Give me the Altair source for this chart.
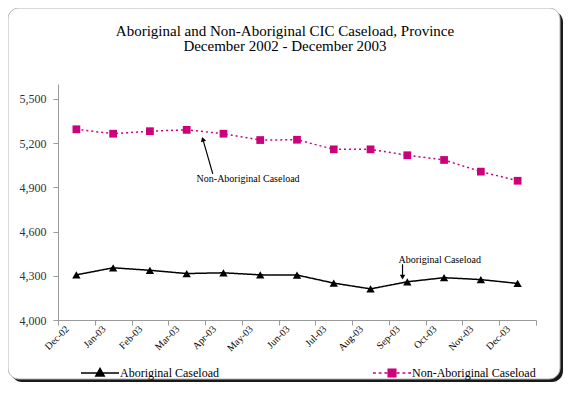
import json
import altair as alt
import pandas as pd

# ---------------- data ----------------
months = ["Dec-02", "Jan-03", "Feb-03", "Mar-03", "Apr-03", "May-03", "Jun-03",
          "Jul-03", "Aug-03", "Sep-03", "Oct-03", "Nov-03", "Dec-03"]
series_names = ["Aboriginal Caseload", "Non-Aboriginal Caseload"]
aboriginal = [4306, 4354, 4337, 4315, 4320, 4306, 4305, 4250, 4211, 4259, 4287, 4274, 4248]
non_aboriginal = [5293, 5263, 5280, 5289, 5263, 5220, 5222, 5157, 5157, 5117, 5085, 5006, 4944]
y_ticks = [4000, 4300, 4600, 4900, 5200, 5500]
title_lines = ["Aboriginal and Non-Aboriginal CIC Caseload, Province",
               "December 2002 - December 2003"]

FONT = "Liberation Serif"
BLACK = "#000000"
PINK = "#CC007A"

rows = []
for i, m in enumerate(months):
    rows.append({"idx": i, "month": m, "series": series_names[0], "value": aboriginal[i]})
    rows.append({"idx": i, "month": m, "series": series_names[1], "value": non_aboriginal[i]})
df = pd.DataFrame(rows)

# annotations (in data units)
ann_text = pd.DataFrame({
    "idx": [4.67, 9.88],
    "value": [4959, 4404],
    "label": ["Non-Aboriginal Caseload", "Aboriginal Caseload"],
})
ann_shaft = pd.DataFrame({
    "idx": [3.71, 8.87], "value": [4991, 4378],
    "idx2": [3.44, 8.87], "value2": [5225, 4290],
})
ann_head = pd.DataFrame({
    "idx": [3.44, 8.87], "value": [5225, 4290], "angle": [344, 180],
})

# ---------------- scales / axes ----------------
x_scale = alt.Scale(domain=[-0.5, 12.5], nice=False, zero=False)
y_scale = alt.Scale(domain=[4000, 5600], nice=False, zero=False)

label_expr = json.dumps(months) + "[round(datum.value + 0.5)] || ''"
x_axis = alt.Axis(
    values=[i - 0.5 for i in range(len(months) + 1)],
    labelExpr=label_expr, labelAngle=315, labelAlign="right", labelBaseline="middle",
    labelOffset=9, labelPadding=2, labelOverlap=False, labelFlush=False,
    labelFont=FONT, labelFontSize=10, labelColor=BLACK,
    tickSize=5, tickColor="#9a9a9a", domainColor="#9a9a9a", grid=False, title=None, zindex=2,
)
y_axis = alt.Axis(
    values=y_ticks, format=",d", labelFont=FONT, labelFontSize=12, labelColor="#333333",
    labelPadding=7, tickSize=5, tickColor="#9a9a9a", domainColor="#9a9a9a",
    labelOverlap=False, labelFlush=False,
    grid=False, title=None, zindex=2,
)

X = alt.X("idx:Q", scale=x_scale, axis=x_axis, title=None)
Y = alt.Y("value:Q", scale=y_scale, axis=y_axis, title=None)

# ---------------- frame ----------------
frame_df = pd.DataFrame({"k": [0]})
shadow = alt.Chart(frame_df).mark_rect(fill="#1a1a1a", cornerRadius=11).encode(
    x=alt.value(-47), x2=alt.value(505), y=alt.value(-73), y2=alt.value(298))
frame = alt.Chart(frame_df).mark_rect(fill="white", stroke="#b4b4b4", strokeWidth=1,
                                      cornerRadius=11).encode(
    x=alt.value(-50), x2=alt.value(502), y=alt.value(-76), y2=alt.value(295))

# ---------------- series ----------------
lines = alt.Chart(df).mark_line(strokeWidth=1.5).encode(
    x=X, y=Y,
    color=alt.Color("series:N", scale=alt.Scale(domain=series_names, range=[BLACK, PINK]), legend=None),
    strokeDash=alt.StrokeDash("series:N", scale=alt.Scale(domain=series_names, range=[[1, 0], [2, 3]]),
                              legend=None),
)
tri = alt.Chart(df).transform_filter(alt.datum.series == series_names[0]).mark_point(
    shape="triangle-up", filled=True, color=BLACK, size=70, opacity=1).encode(x=X, y=Y)
sq = alt.Chart(df).transform_filter(alt.datum.series == series_names[1]).mark_point(
    shape="square", filled=True, color=PINK, size=60, opacity=1).encode(x=X, y=Y)


# ---------------- legend symbols (stroke-only paths, hatched to look filled) ----------------
def fmt(v):
    return ("%.3f" % v).rstrip("0").rstrip(".")


def tri_path():
    top, base, hw = -0.24, 0.16, 0.22
    p = "M-1,0H1M0,%s L%s,%s H%s Z" % (fmt(top), fmt(hw), fmt(base), fmt(-hw))
    y = top + 0.04
    while y <= base + 1e-9:
        w = hw * (y - top) / (base - top)
        p += "M%s,%sH%s" % (fmt(-w), fmt(y), fmt(w))
        y += 0.04
    return p


def sq_path():
    h = 0.2
    p = ""
    for a, b in [(-1, -0.85), (-0.7, -0.55), (-0.4, -0.25), (0.25, 0.4), (0.55, 0.7), (0.85, 1)]:
        p += "M%s,0H%s" % (fmt(a), fmt(b))
    p += "M%s,%sH%sV%sH%sZ" % (fmt(-h), fmt(-h), fmt(h), fmt(h), fmt(-h))
    y = -h + 0.04
    while y < h - 1e-9:
        p += "M%s,%sH%s" % (fmt(-h), fmt(y), fmt(h))
        y += 0.04
    return p


def legend_layer(k, path, col, lx):
    lg = alt.Legend(
        orient="none", legendX=lx, legendY=269, title=None, padding=0, symbolSize=1444,
        symbolStrokeWidth=1.5, symbolOpacity=1, symbolFillColor=col, symbolStrokeColor=col,
        labelFont=FONT, labelFontSize=12, labelColor=BLACK, labelOffset=0,
    )
    return alt.Chart(df).transform_filter(alt.datum.series == series_names[k]).mark_point(
        opacity=0, filled=False, color=col, stroke=col, strokeWidth=1.5).encode(
        x=X, y=Y,
        shape=alt.Shape("series:N", scale=alt.Scale(domain=[series_names[k]], range=[path]), legend=lg),
    )


leg_ab = legend_layer(0, tri_path(), BLACK, 22)
leg_non = legend_layer(1, sq_path(), PINK, 314)

# ---------------- annotations ----------------
shafts = alt.Chart(ann_shaft).mark_rule(color=BLACK, strokeWidth=1.2).encode(
    x=X, y=Y, x2="idx2:Q", y2="value2:Q")
heads = alt.Chart(ann_head).mark_point(shape="triangle-up", filled=True, color=BLACK,
                                       size=30, opacity=1).encode(
    x=X, y=Y, angle=alt.Angle("angle:Q", scale=None))
texts = alt.Chart(ann_text).mark_text(font=FONT, fontSize=10, color=BLACK,
                                      align="center", baseline="middle").encode(
    x=X, y=Y, text="label:N")

chart = alt.layer(shadow, frame, lines, tri, sq, leg_ab, leg_non, shafts, heads, texts).resolve_scale(
    shape="independent"
).properties(
    width=478, height=236,
    padding={"left": 50, "top": 76, "right": 29, "bottom": 64},
    autosize=alt.AutoSizeParams(type="none"),
    title=alt.TitleParams(text=title_lines, font=FONT, fontSize=15, fontWeight="normal",
                          color=BLACK, anchor="middle", frame="group", dx=-12, offset=0,
                          dy=46, lineHeight=15),
).configure_view(stroke=None).configure(background="white")

chart.save("out.html", embed_options={"renderer": "svg", "actions": False})
